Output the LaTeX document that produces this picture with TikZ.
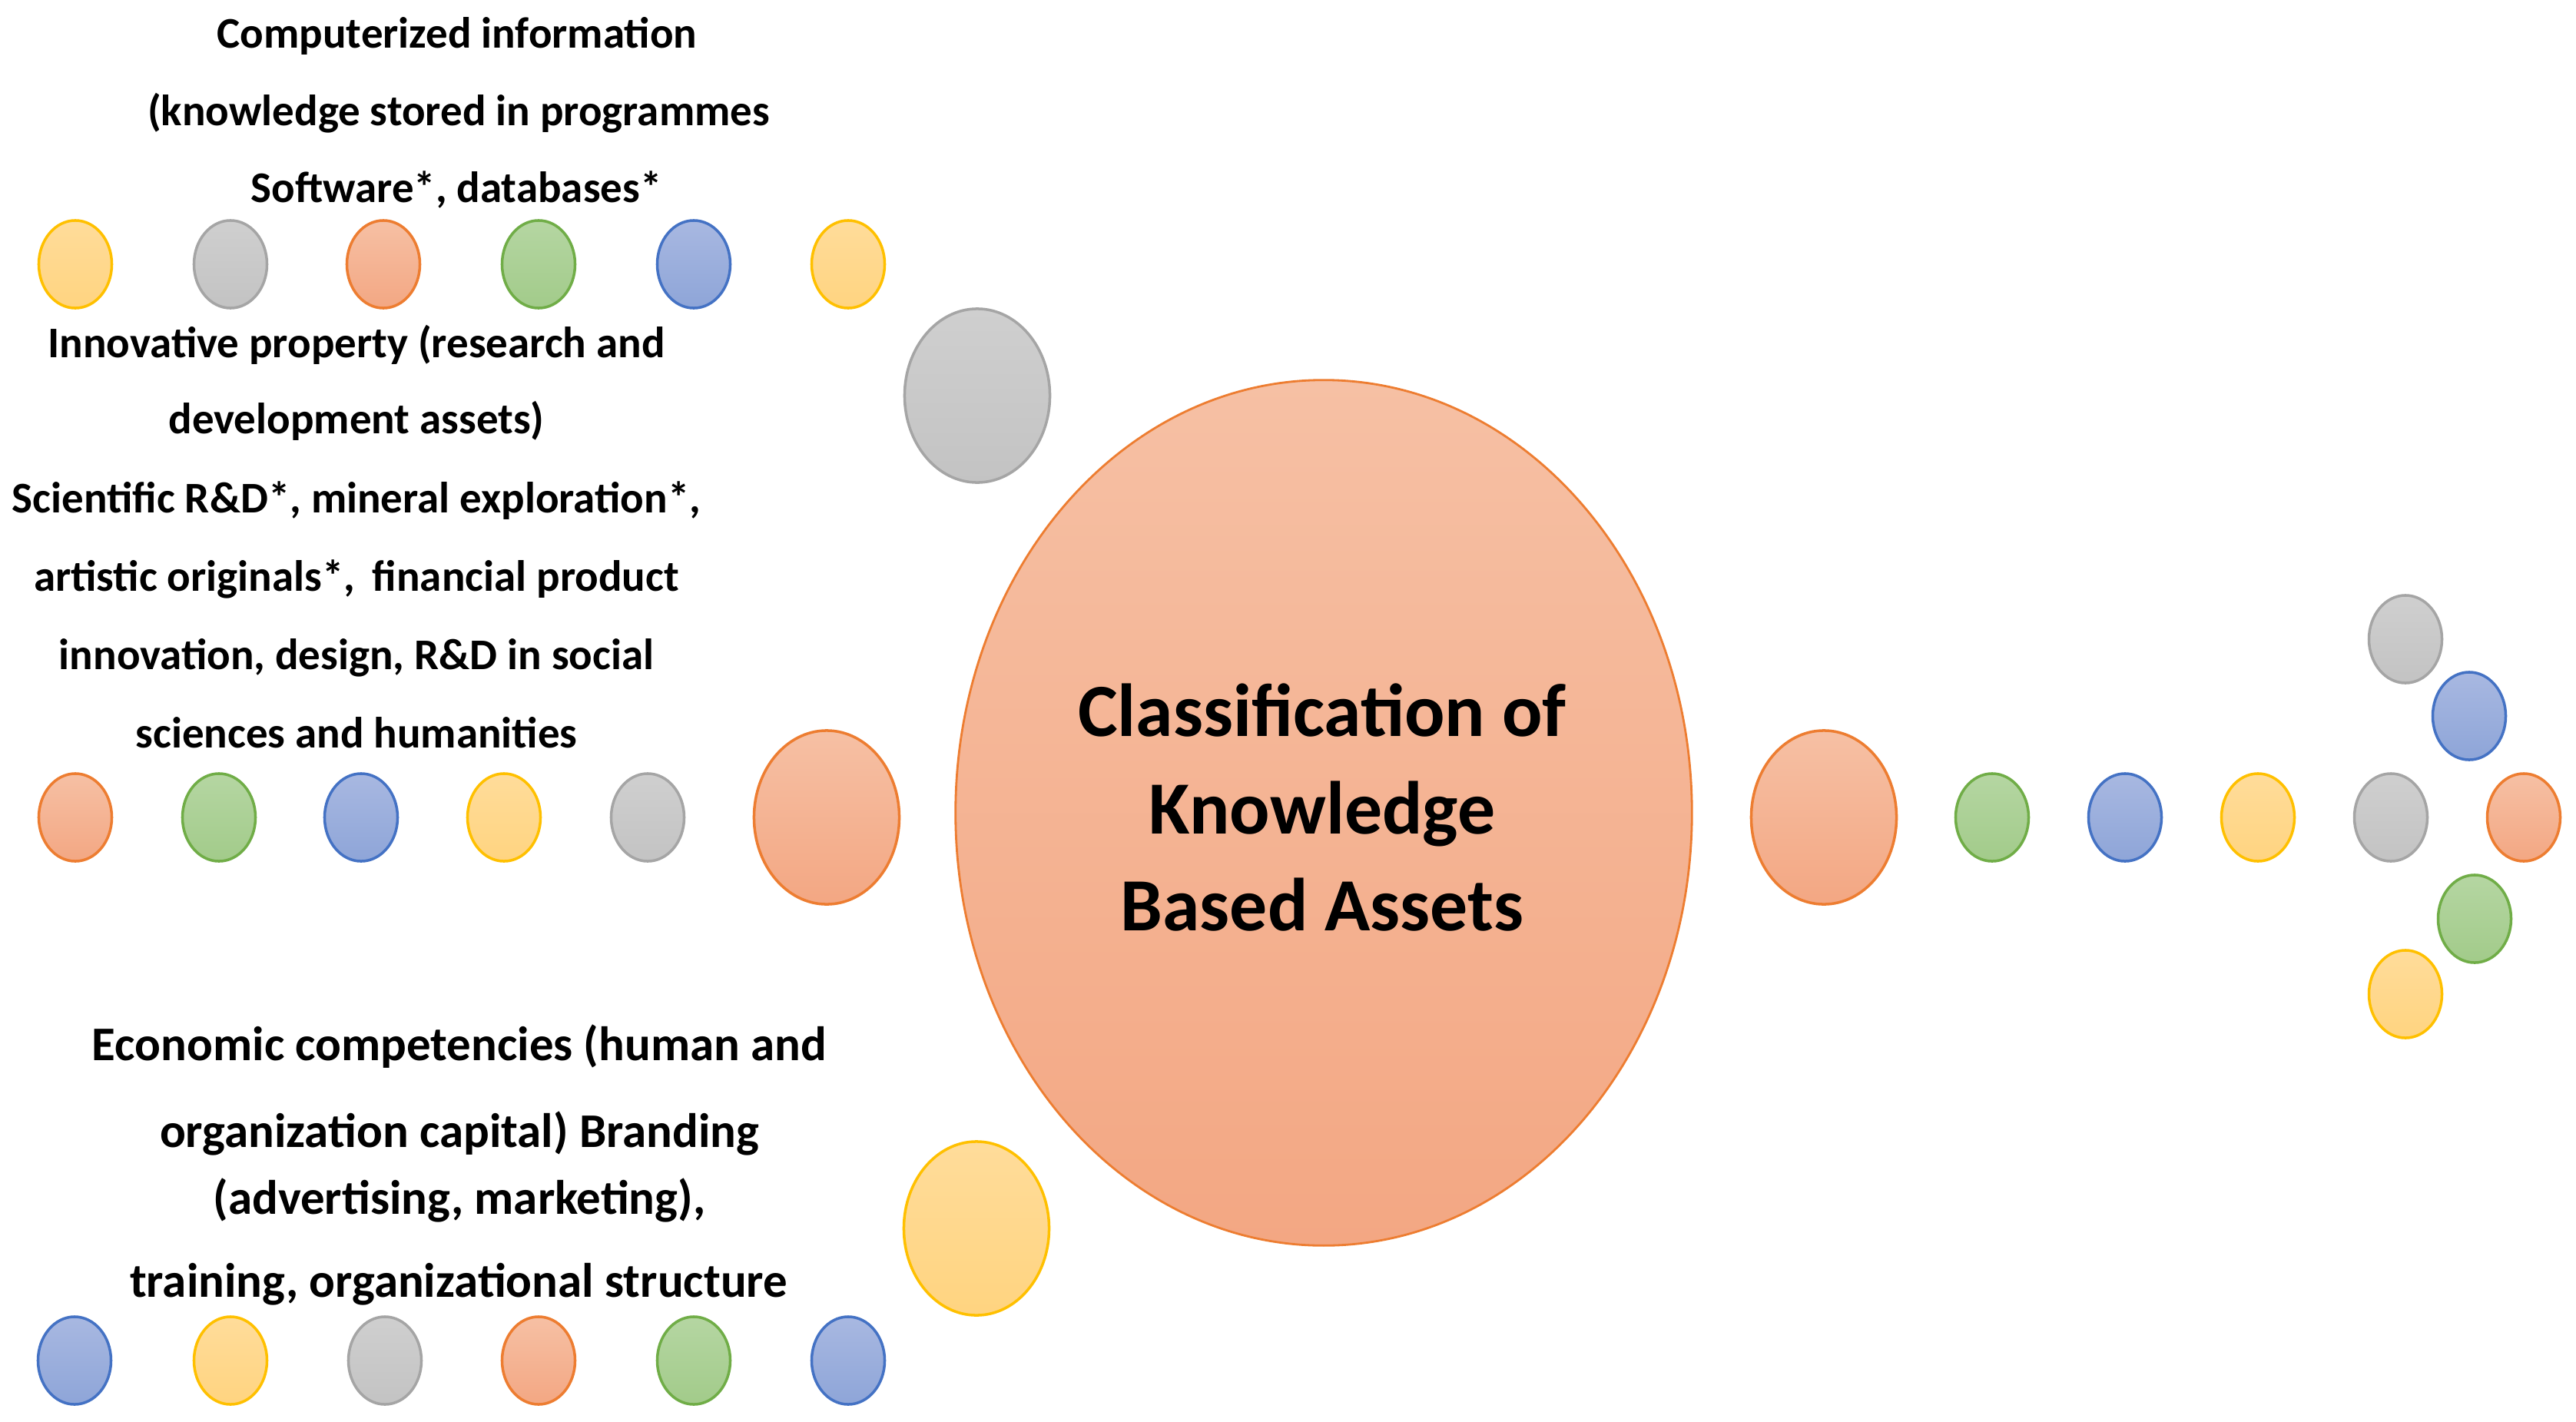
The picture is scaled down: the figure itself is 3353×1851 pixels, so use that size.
\documentclass[tikz,border=0pt]{standalone}
\usepackage{fontspec}
\setmainfont{Carlito}
\usetikzlibrary{shapes.geometric}
\definecolor{orL}{HTML}{ED7D31}\definecolor{orT}{HTML}{F6C0A4}\definecolor{orD}{HTML}{F3A783}
\definecolor{grL}{HTML}{70AD47}\definecolor{grT}{HTML}{B5D6A2}\definecolor{grD}{HTML}{A2CB8A}
\definecolor{blL}{HTML}{4472C4}\definecolor{blT}{HTML}{A8B8E1}\definecolor{blD}{HTML}{8EA5D8}
\definecolor{ylL}{HTML}{FFC000}\definecolor{ylT}{HTML}{FFDC9A}\definecolor{ylD}{HTML}{FFD480}
\definecolor{gyL}{HTML}{A5A5A5}\definecolor{gyT}{HTML}{CFCFCF}\definecolor{gyD}{HTML}{C3C3C3}
\tikzset{
  blob/.style={ellipse, inner sep=0pt, line width=1pt},
  sm/.style={blob, minimum width=0.95cm, minimum height=1.14cm},
  md/.style={blob, minimum width=1.89cm, minimum height=2.26cm},
  cOr/.style={draw=orL, top color=orT, bottom color=orD},
  cGr/.style={draw=grL, top color=grT, bottom color=grD},
  cBl/.style={draw=blL, top color=blT, bottom color=blD},
  cYl/.style={draw=ylL, top color=ylT, bottom color=ylD},
  cGy/.style={draw=gyL, top color=gyT, bottom color=gyD},
  lbl/.style={anchor=base, inner sep=0pt, font=\fontsize{16.2}{19}\selectfont\bfseries},
  lblb/.style={anchor=base, inner sep=0pt, font=\fontsize{17.9}{21}\selectfont\bfseries},
}
\begin{document}
\begin{tikzpicture}[x=0.01cm,y=-0.01cm]
\useasboundingbox (0,0) rectangle (3353,1851);
% central ellipse
\node[blob, cOr, line width=0.8pt, minimum width=9.58cm, minimum height=11.26cm] (core) at (1723,1058) {};
\node[inner sep=0pt, align=center, font=\fontsize{27.8}{35.9}\selectfont\bfseries] (title) at (1721,1051)
      {Classification of\\Knowledge\\Based Assets};
% medium ellipses
\node[md, cGy] (mA) at (1272,515) {};
\node[md, cOr] (mB) at (1076,1064) {};
\node[md, cYl] (mC) at (1271,1599) {};
\node[md, cOr] (mR) at (2374,1064) {};
% top row
\node[sm, cYl] (a1) at (98,344) {};
\node[sm, cGy] (a2) at (300,344) {};
\node[sm, cOr] (a3) at (499,344) {};
\node[sm, cGr] (a4) at (701,344) {};
\node[sm, cBl] (a5) at (903,344) {};
\node[sm, cYl] (a6) at (1104,344) {};
% middle row
\node[sm, cOr] (b1) at (98,1064) {};
\node[sm, cGr] (b2) at (285,1064) {};
\node[sm, cBl] (b3) at (470,1064) {};
\node[sm, cYl] (b4) at (656,1064) {};
\node[sm, cGy] (b5) at (843,1064) {};
% bottom row
\node[sm, cBl] (c1) at (97,1771) {};
\node[sm, cYl] (c2) at (300,1771) {};
\node[sm, cGy] (c3) at (501,1771) {};
\node[sm, cOr] (c4) at (701,1771) {};
\node[sm, cGr] (c5) at (903,1771) {};
\node[sm, cBl] (c6) at (1104,1771) {};
% right arrow
\node[sm, cGr] (r1) at (2593,1064) {};
\node[sm, cBl] (r2) at (2766,1064) {};
\node[sm, cYl] (r3) at (2939,1064) {};
\node[sm, cGy] (r4) at (3112,1064) {};
\node[sm, cOr] (r5) at (3285,1064) {};
\node[sm, cGy] (r6) at (3131,832) {};
\node[sm, cBl] (r7) at (3214,932) {};
\node[sm, cGr] (r8) at (3221,1196) {};
\node[sm, cYl] (r9) at (3131,1294) {};
% text block 1
\node[lbl] (tA1) at (595,62) {Computerized information};
\node[lbl] (tA2) at (597,163) {(knowledge stored in programmes};
\node[lbl] (tA3) at (594,263) {Software*, databases*};
% text block 2
\node[lbl] (tB1) at (464,465) {Innovative property (research and};
\node[lbl] (tB2) at (464,564) {development assets)};
\node[lbl] (tB3) at (464,667) {Scientific R\&D*, mineral exploration*,};
\node[lbl] (tB4) at (464,769) {artistic originals*,\, financial product};
\node[lbl] (tB5) at (464,871) {innovation, design, R\&D in social};
\node[lbl] (tB6) at (464,973) {sciences and humanities};
% text block 3
\node[lblb] (tC1) at (598,1380) {Economic competencies (human and};
\node[lblb] (tC2) at (598,1493) {organization capital) Branding};
\node[lblb] (tC3) at (598,1580) {(advertising, marketing),};
\node[lblb] (tC4) at (597,1688) {training, organizational structure};
\end{tikzpicture}
\end{document}
